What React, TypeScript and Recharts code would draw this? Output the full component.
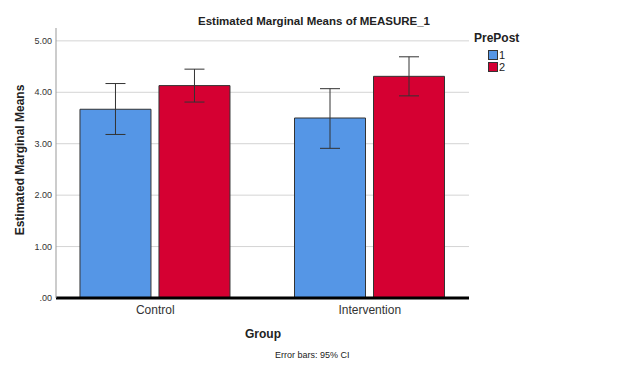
import React from 'react';
import { BarChart, Bar, XAxis, YAxis, CartesianGrid, ErrorBar } from 'recharts';

const groups = ['Control', 'Intervention'];
const prePostLevels = ['1', '2'];
const means1 = [3.67, 3.5];
const means2 = [4.13, 4.31];
const ciLow1 = [3.18, 2.91];
const ciHigh1 = [4.17, 4.07];
const ciLow2 = [3.81, 3.93];
const ciHigh2 = [4.45, 4.69];
const yTicks = [0, 1, 2, 3, 4, 5];
const barColors = ['#5596e6', '#d50032'];

const data = groups.map((g, i) => ({
  pos: i,
  group: g,
  m1: means1[i],
  m2: means2[i],
  err1: [means1[i] - ciLow1[i], ciHigh1[i] - means1[i]],
  err2: [means2[i] - ciLow2[i], ciHigh2[i] - means2[i]],
}));

const fmtY = (v: number) => (v === 0 ? '.00' : v.toFixed(2));

const LegendBox = () => (
  <div style={{ position: 'absolute', left: 474, top: 31, color: '#222' }}>
    <div style={{ fontWeight: 'bold', fontSize: 12, marginBottom: 4 }}>PrePost</div>
    {prePostLevels.map((lv, i) => (
      <div key={lv} style={{ display: 'flex', alignItems: 'center', marginLeft: 14, height: 12 }}>
        <span
          style={{
            display: 'inline-block',
            width: 8,
            height: 8,
            background: barColors[i],
            border: '1px solid #333',
          }}
        />
        <span style={{ fontSize: 11, marginLeft: 1 }}>{lv}</span>
      </div>
    ))}
  </div>
);

const App: React.FC = () => {
  return (
    <div
      style={{
        position: 'absolute',
        left: 0,
        top: 0,
        width: 628,
        height: 371,
        background: '#fff',
        fontFamily: 'Liberation Sans, Arial, sans-serif',
      }}
    >
      <BarChart
        width={628}
        height={371}
        data={data}
        margin={{ top: 28, right: 159, bottom: 43, left: 0 }}
        barGap={8}
        style={{ position: 'absolute', left: 0, top: 0 }}
      >
        <CartesianGrid vertical={false} horizontalValues={yTicks} stroke="#d4d4d4" />
        <XAxis
          type="number"
          dataKey="pos"
          domain={[-0.4626, 1.4626]}
          ticks={[0, 1]}
          interval={0}
          tickFormatter={(v: number) => groups[v] ?? ''}
          axisLine={{ stroke: '#000', strokeWidth: 3 }}
          tickLine={false}
          tickSize={0}
          tickMargin={7}
          tick={{ fontSize: 12, fill: '#333' }}
          height={30}
          allowDataOverflow
        />
        <YAxis
          domain={[0, 5.25]}
          ticks={yTicks}
          tickFormatter={fmtY}
          width={56}
          axisLine={{ stroke: '#999' }}
          tickLine={false}
          tickSize={0}
          tickMargin={4}
          tick={{ fontSize: 9, fill: '#333' }}
          allowDataOverflow
        />
        <Bar dataKey="m1" name={prePostLevels[0]} fill={barColors[0]} stroke="#333" strokeWidth={1} barSize={71} isAnimationActive={false}>
          <ErrorBar dataKey="err1" width={10} stroke="#333" strokeWidth={1} direction="y" />
        </Bar>
        <Bar dataKey="m2" name={prePostLevels[1]} fill={barColors[1]} stroke="#333" strokeWidth={1} barSize={71} isAnimationActive={false}>
          <ErrorBar dataKey="err2" width={10} stroke="#333" strokeWidth={1} direction="y" />
        </Bar>
      </BarChart>
      <div
        style={{
          position: 'absolute',
          left: 314,
          top: 21,
          transform: 'translate(-50%, -50%)',
          fontWeight: 'bold',
          fontSize: 11.5,
          whiteSpace: 'nowrap',
          color: '#222',
        }}
      >
        Estimated Marginal Means of MEASURE_1
      </div>
      <div
        style={{
          position: 'absolute',
          left: 20,
          top: 160,
          transform: 'translate(-50%, -50%) rotate(-90deg)',
          fontWeight: 'bold',
          fontSize: 12,
          whiteSpace: 'nowrap',
          color: '#222',
        }}
      >
        Estimated Marginal Means
      </div>
      <div
        style={{
          position: 'absolute',
          left: 263,
          top: 334,
          transform: 'translate(-50%, -50%)',
          fontWeight: 'bold',
          fontSize: 12,
          color: '#222',
        }}
      >
        Group
      </div>
      <div
        style={{
          position: 'absolute',
          left: 275,
          top: 350,
          fontSize: 9,
          whiteSpace: 'nowrap',
          color: '#222',
        }}
      >
        Error bars: 95% CI
      </div>
      <LegendBox />
    </div>
  );
};

export default App;
